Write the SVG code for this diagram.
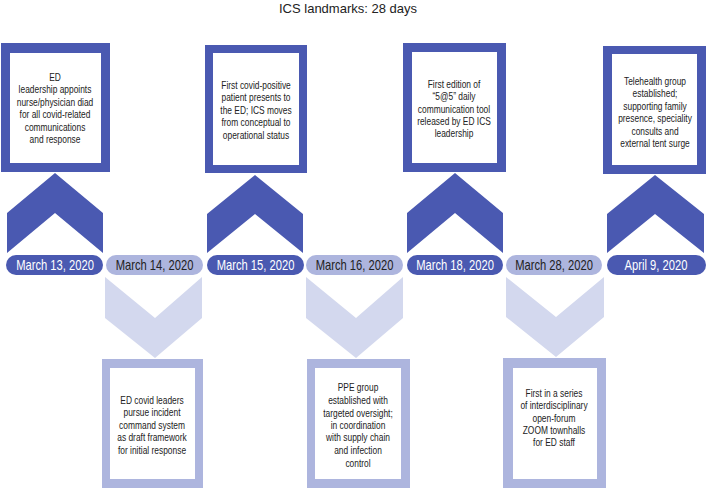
<svg xmlns="http://www.w3.org/2000/svg" width="707" height="490" viewBox="0 0 707 490">
<defs>
<style>
.dk{fill:#4a59b1}
.lt{fill:#adb5de}
.lc{fill:#d3d8ee}
.wh{fill:#ffffff}
.t{font-family:"Liberation Sans",Arial,sans-serif;font-size:10.5px;fill:#222;text-anchor:middle}
.pd{font-family:"Liberation Sans",Arial,sans-serif;font-size:14px;fill:#ffffff;text-anchor:middle}
.pl{font-family:"Liberation Sans",Arial,sans-serif;font-size:14px;fill:#222;text-anchor:middle}
.title{font-family:"Liberation Sans",Arial,sans-serif;font-size:13px;fill:#222;text-anchor:middle}
</style>
</defs>
<rect width="707" height="490" fill="#ffffff"/>
<text class="title" x="348" y="13">ICS landmarks: 28 days</text>
<g id="connectors"/>

<g id="ev1">
<rect class="dk" x="1" y="43" width="109" height="129"/>
<rect class="wh" x="10" y="53" width="91" height="110"/>
<polygon class="dk" points="55,173 103,213 103,253 55,213 7,253 7,213"/>
<rect class="dk" x="6" y="255" width="97" height="20" rx="10"/>
<g transform="translate(55,0) scale(0.8,1)">
<text class="t" x="0" y="81">ED</text>
<text class="t" x="0" y="93.5">leadership appoints</text>
<text class="t" x="0" y="106">nurse/physician diad</text>
<text class="t" x="0" y="118">for all covid-related</text>
<text class="t" x="0" y="131">communications</text>
<text class="t" x="0" y="143">and response</text>
</g>
<g transform="translate(55,0) scale(0.8,1)"><text class="pd" x="0" y="270">March 13, 2020</text></g>
</g>

<g id="ev2">
<rect class="lt" x="106" y="255" width="97" height="20" rx="10"/>
<polygon class="lc" points="105,277 155,318 202,277 202,318 155,358 105,318"/>
<rect class="lt" x="102" y="359" width="101" height="129"/>
<rect class="wh" x="110" y="368" width="85" height="111"/>
<g transform="translate(152,0) scale(0.8,1)">
<text class="t" x="0" y="404">ED covid leaders</text>
<text class="t" x="0" y="416.5">pursue incident</text>
<text class="t" x="0" y="429">command system</text>
<text class="t" x="0" y="441">as draft framework</text>
<text class="t" x="0" y="454">for initial response</text>
</g>
<g transform="translate(154.5,0) scale(0.8,1)"><text class="pl" x="0" y="270">March 14, 2020</text></g>
</g>

<g id="ev3">
<rect class="dk" x="205" y="45" width="102" height="128"/>
<rect class="wh" x="213" y="53" width="86" height="112"/>
<polygon class="dk" points="255,175 303,214 303,253 255,214 207,253 207,214"/>
<rect class="dk" x="207" y="255" width="97" height="20" rx="10"/>
<g transform="translate(256,0) scale(0.8,1)">
<text class="t" x="0" y="89">First covid-positive</text>
<text class="t" x="0" y="101.5">patient presents to</text>
<text class="t" x="0" y="114">the ED; ICS moves</text>
<text class="t" x="0" y="126.5">from conceptual to</text>
<text class="t" x="0" y="139">operational status</text>
</g>
<g transform="translate(255.5,0) scale(0.8,1)"><text class="pd" x="0" y="270">March 15, 2020</text></g>
</g>

<g id="ev4">
<rect class="lt" x="306" y="255" width="97" height="20" rx="10"/>
<polygon class="lc" points="306,277 356,318 403,277 403,318 356,358 306,318"/>
<rect class="lt" x="307" y="359" width="103" height="129"/>
<rect class="wh" x="315" y="368" width="86" height="111"/>
<g transform="translate(358,0) scale(0.8,1)">
<text class="t" x="0" y="391">PPE group</text>
<text class="t" x="0" y="404">established with</text>
<text class="t" x="0" y="417">targeted oversight;</text>
<text class="t" x="0" y="429">in coordination</text>
<text class="t" x="0" y="441">with supply chain</text>
<text class="t" x="0" y="454">and infection</text>
<text class="t" x="0" y="467">control</text>
</g>
<g transform="translate(354.5,0) scale(0.8,1)"><text class="pl" x="0" y="270">March 16, 2020</text></g>
</g>

<g id="ev5">
<rect class="dk" x="403" y="43" width="103" height="129"/>
<rect class="wh" x="412" y="52" width="85" height="111"/>
<polygon class="dk" points="455,173 503,213 503,253 455,213 407,253 407,213"/>
<rect class="dk" x="407" y="255" width="96" height="20" rx="10"/>
<g transform="translate(454,0) scale(0.8,1)">
<text class="t" x="0" y="88">First edition of</text>
<text class="t" x="0" y="100.5">“5@5” daily</text>
<text class="t" x="0" y="113">communication tool</text>
<text class="t" x="0" y="125">released by ED ICS</text>
<text class="t" x="0" y="137">leadership</text>
</g>
<g transform="translate(455,0) scale(0.8,1)"><text class="pd" x="0" y="270">March 18, 2020</text></g>
</g>

<g id="ev6">
<rect class="lt" x="506" y="255" width="96" height="20" rx="10"/>
<polygon class="lc" points="506,277 556,317 604,277 604,317 556,357 506,317"/>
<rect class="lt" x="503" y="358" width="103" height="130"/>
<rect class="wh" x="513" y="368" width="84" height="111"/>
<g transform="translate(554,0) scale(0.8,1)">
<text class="t" x="0" y="397">First in a series</text>
<text class="t" x="0" y="409">of interdisciplinary</text>
<text class="t" x="0" y="422">open-forum</text>
<text class="t" x="0" y="434">ZOOM townhalls</text>
<text class="t" x="0" y="446">for ED staff</text>
</g>
<g transform="translate(554,0) scale(0.8,1)"><text class="pl" x="0" y="270">March 28, 2020</text></g>
</g>

<g id="ev7">
<rect class="dk" x="603" y="46" width="103" height="128"/>
<rect class="wh" x="612" y="54" width="85" height="111"/>
<polygon class="dk" points="655,175 704,214 704,253 655,214 607,253 607,214"/>
<rect class="dk" x="607" y="255" width="99" height="20" rx="10"/>
<g transform="translate(655,0) scale(0.8,1)">
<text class="t" x="0" y="85">Telehealth group</text>
<text class="t" x="0" y="97">established;</text>
<text class="t" x="0" y="110">supporting family</text>
<text class="t" x="0" y="122">presence, speciality</text>
<text class="t" x="0" y="135">consults and</text>
<text class="t" x="0" y="147">external tent surge</text>
</g>
<g transform="translate(656,0) scale(0.8,1)"><text class="pd" x="0" y="270">April 9, 2020</text></g>
</g>
</svg>
